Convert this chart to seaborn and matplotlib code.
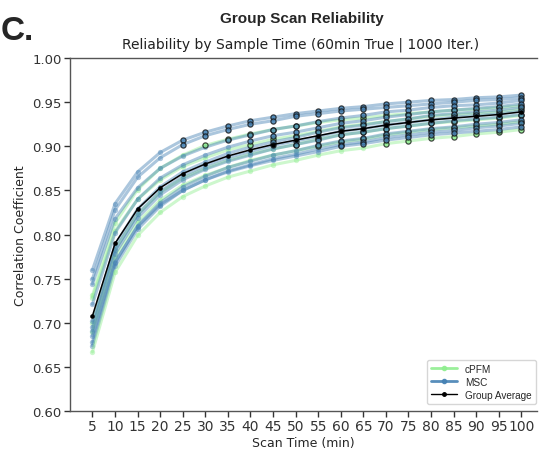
import numpy as np
import pandas as pd
import matplotlib
matplotlib.use("Agg")
import matplotlib.pyplot as plt
import seaborn as sns
from matplotlib.lines import Line2D

scan_times = [5, 10, 15, 20, 25, 30, 35, 40, 45, 50, 55, 60, 65, 70, 75, 80, 85, 90, 95, 100]

msc_01 = [.760, .835, .871, .893, .907, .916, .923, .929, .933, .937, .940, .943, .945, .948, .950, .952, .953, .955, .956, .958]
msc_02 = [.750, .828, .865, .887, .902, .912, .919, .925, .929, .934, .937, .940, .942, .944, .946, .948, .950, .952, .953, .955]
msc_03 = [.744, .818, .853, .875, .889, .899, .907, .913, .919, .923, .928, .932, .935, .939, .941, .944, .946, .947, .949, .952]
msc_04 = [.721, .802, .840, .864, .879, .890, .899, .906, .912, .916, .921, .926, .929, .933, .936, .939, .941, .943, .945, .948]
msc_05 = [.702, .788, .829, .854, .871, .882, .892, .899, .905, .910, .916, .921, .924, .928, .931, .935, .937, .939, .941, .944]
msc_06 = [.695, .782, .823, .849, .866, .878, .887, .894, .901, .906, .911, .917, .920, .924, .927, .930, .933, .935, .937, .940]
msc_07 = [.691, .778, .819, .845, .862, .874, .883, .890, .897, .902, .907, .913, .916, .920, .923, .926, .929, .931, .933, .936]
msc_08 = [.678, .768, .810, .836, .854, .866, .876, .883, .890, .895, .901, .906, .909, .914, .917, .920, .922, .925, .927, .930]
msc_09 = [.674, .764, .806, .832, .850, .862, .872, .879, .886, .891, .897, .902, .905, .910, .913, .916, .918, .921, .923, .926]
msc_10 = [.685, .769, .809, .834, .850, .862, .871, .878, .884, .889, .894, .900, .903, .907, .910, .913, .915, .917, .919, .922]

cpfm_01 = [.731, .813, .851, .875, .890, .901, .908, .914, .919, .923, .927, .930, .932, .935, .937, .939, .941, .942, .944, .946]
cpfm_02 = [.728, .804, .840, .862, .877, .887, .896, .902, .908, .912, .917, .922, .925, .928, .931, .934, .936, .937, .939, .942]
cpfm_03 = [.700, .783, .823, .848, .864, .875, .884, .891, .897, .902, .908, .913, .916, .920, .923, .926, .928, .930, .932, .935]
cpfm_04 = [.689, .774, .814, .839, .856, .867, .876, .884, .890, .895, .900, .905, .908, .913, .916, .919, .921, .923, .925, .928]
cpfm_05 = [.667, .757, .799, .825, .843, .855, .865, .872, .879, .884, .890, .895, .898, .903, .906, .909, .911, .914, .916, .919]

group_average = [.708, .790, .829, .853, .869, .880, .889, .896, .902, .907, .912, .917, .920, .924, .927, .930, .932, .934, .936, .939]

y_ticks = [0.60, 0.65, 0.70, 0.75, 0.80, 0.85, 0.90, 0.95, 1.00]
threshold = 0.90

subjects = {
    ("cPFM", "cPFM01"): cpfm_01, ("MSC", "MSC01"): msc_01,
    ("MSC", "MSC02"): msc_02, ("cPFM", "cPFM02"): cpfm_02,
    ("MSC", "MSC03"): msc_03, ("MSC", "MSC04"): msc_04,
    ("cPFM", "cPFM03"): cpfm_03, ("MSC", "MSC05"): msc_05,
    ("MSC", "MSC06"): msc_06, ("cPFM", "cPFM04"): cpfm_04,
    ("MSC", "MSC07"): msc_07, ("MSC", "MSC08"): msc_08,
    ("MSC", "MSC09"): msc_09, ("cPFM", "cPFM05"): cpfm_05,
    ("MSC", "MSC10"): msc_10,
}

rows = []
for (ds, subj), vals in subjects.items():
    for t, v in zip(scan_times, vals):
        rows.append({"dataset": ds, "subject": subj, "time": t, "r": v})
df = pd.DataFrame(rows)
avg_df = pd.DataFrame({"time": scan_times, "r": group_average})

colors = {"cPFM": "#90EE90", "MSC": "#4682B4"}

sns.set_theme(style="ticks")
plt.rcParams['font.family'] = ['Liberation Sans', 'DejaVu Sans']

fig = plt.figure(figsize=(5.42, 4.56), dpi=100)
ax = fig.add_axes([0.129, 0.0965, 0.862, 0.774])

for (ds, subj), g in df.groupby(["dataset", "subject"], sort=False):
    sns.lineplot(data=g, x="time", y="r", ax=ax, color=colors[ds], alpha=0.45,
                 linewidth=2.2, marker="o", markersize=3.8, markeredgewidth=0,
                 legend=False)

hi = df[df["r"] >= threshold]
for ds in ["cPFM", "MSC"]:
    sub = hi[hi["dataset"] == ds]
    sns.scatterplot(data=sub, x="time", y="r", ax=ax, color=colors[ds],
                    edgecolor="#111111", linewidth=0.9, s=14, alpha=0.75,
                    legend=False, zorder=4)

sns.lineplot(data=avg_df, x="time", y="r", ax=ax, color="black", linewidth=1.1,
             marker="o", markersize=3.3, markeredgewidth=0, legend=False, zorder=5)

ax.set_xlim(0, 103.5)
ax.set_ylim(0.60, 1.00)
ax.set_xticks(scan_times)
ax.set_xticklabels([str(t) for t in scan_times], fontsize=10, family='DejaVu Sans')
ax.set_yticks(y_ticks)
ax.set_yticklabels([f"{v:.2f}" for v in y_ticks], fontsize=9.5, family='DejaVu Sans')
ax.set_xlabel("Scan Time (min)", fontsize=9, family='DejaVu Sans', labelpad=2)
ax.set_ylabel("Correlation Coefficient", fontsize=9, family='DejaVu Sans', labelpad=4)
ax.tick_params(axis="both", colors="#333333", length=4, width=1, pad=2)
for s in ["left", "bottom", "top"]:
    ax.spines[s].set_color("#555555")
    ax.spines[s].set_linewidth(1.0)
ax.spines["right"].set_visible(False)

fig.text(0.557, 0.958, "Group Scan Reliability", ha="center", va="center",
         fontsize=11, fontweight="bold")
fig.text(0.555, 0.901, "Reliability by Sample Time (60min True | 1000 Iter.)",
         ha="center", va="center", fontsize=10, family='DejaVu Sans', color="#222222")
fig.text(0.002, 0.93, "C.", ha="left", va="center", fontsize=24, fontweight="bold")

handles = [
    Line2D([0], [0], color=colors["cPFM"], lw=2, marker="o", markersize=3, alpha=0.9),
    Line2D([0], [0], color=colors["MSC"], lw=2, marker="o", markersize=3, alpha=0.9),
    Line2D([0], [0], color="black", lw=1, marker="o", markersize=2.5),
]
ax.legend(handles, ["cPFM", "MSC", "Group Average"], loc="lower right",
          fontsize=7.2, frameon=True, handlelength=2.6, borderpad=0.4,
          labelspacing=0.3, borderaxespad=0, bbox_to_anchor=(0.997, 0.02))

fig.savefig("out.png", dpi=100)
